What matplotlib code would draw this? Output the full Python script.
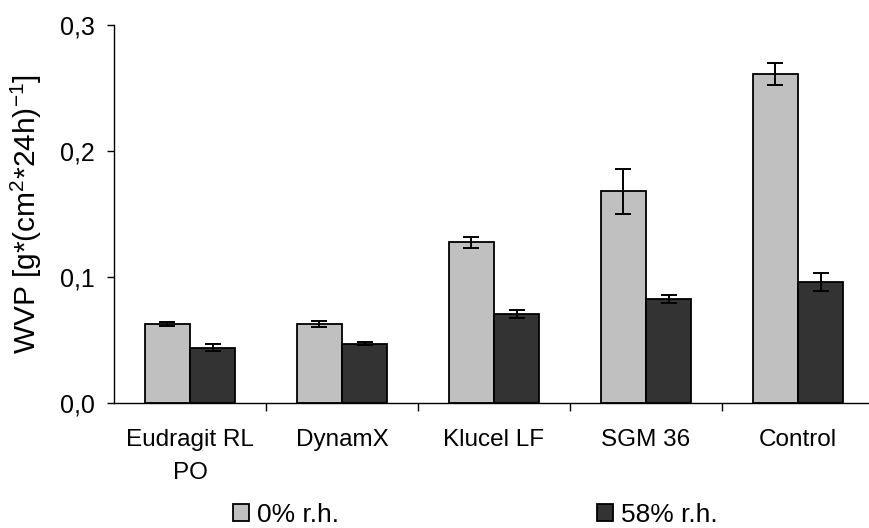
import numpy as np
import matplotlib.pyplot as plt

plt.rcParams['font.family'] = ['Liberation Sans', 'DejaVu Sans']
plt.rcParams['mathtext.fontset'] = 'custom'
plt.rcParams['mathtext.rm'] = 'Liberation Sans'
plt.rcParams['mathtext.it'] = 'Liberation Sans'

categories = ['Eudragit RL\nPO', 'DynamX', 'Klucel LF', 'SGM 36', 'Control']
rh0 = [0.0627, 0.0625, 0.1275, 0.168, 0.261]
rh0_err = [0.0015, 0.0025, 0.0042, 0.018, 0.0087]
rh58 = [0.0440, 0.0470, 0.0704, 0.0825, 0.0962]
rh58_err = [0.0025, 0.0013, 0.0033, 0.0033, 0.0072]

fig = plt.figure(figsize=(8.69, 5.28), dpi=100)
ax = fig.add_axes([114 / 869, 1 - 403 / 528, 760 / 869, 378 / 528])

x = np.arange(len(categories))
w = 0.298
ekw = dict(ecolor='black', elinewidth=1.4, capsize=5.5, capthick=1.4)
ax.bar(x - w / 2, rh0, w, yerr=rh0_err, color='#c0c0c0', edgecolor='black',
       linewidth=1.3, error_kw=ekw, label='0% r.h.')
ax.bar(x + w / 2, rh58, w, yerr=rh58_err, color='#333333', edgecolor='black',
       linewidth=1.3, error_kw=ekw, label='58% r.h.')

ax.set_xlim(-0.5, len(categories) - 0.5)
ax.set_ylim(0, 0.3)
ax.set_yticks([0, 0.1, 0.2, 0.3])
ax.set_yticklabels(['0,0', '0,1', '0,2', '0,3'])
ax.set_xticks(x)
ax.set_xticklabels(categories, linespacing=1.6)
ax.set_xticks(np.arange(len(categories)) + 0.5, minor=True)
ax.tick_params(axis='x', which='major', length=0, pad=19, labelsize=17.5)
ax.tick_params(axis='x', which='minor', length=6, width=1, direction='out')
ax.tick_params(axis='y', length=5, width=1, pad=9, labelsize=18)
ax.spines['top'].set_visible(False)
ax.spines['right'].set_visible(False)
ax.spines['left'].set_linewidth(1)
ax.spines['bottom'].set_linewidth(1)
ax.set_ylabel('WVP [g*(cm$^{2}$*24h)$^{-1}$]', fontsize=21.5, labelpad=11)

fig.legend(loc='center', bbox_to_anchor=(0.547, 0.025), ncol=2, frameon=False,
           fontsize=19, handlelength=0.6, handleheight=0.6, handletextpad=0.3,
           columnspacing=9.8)

fig.savefig('out.png', dpi=100)
